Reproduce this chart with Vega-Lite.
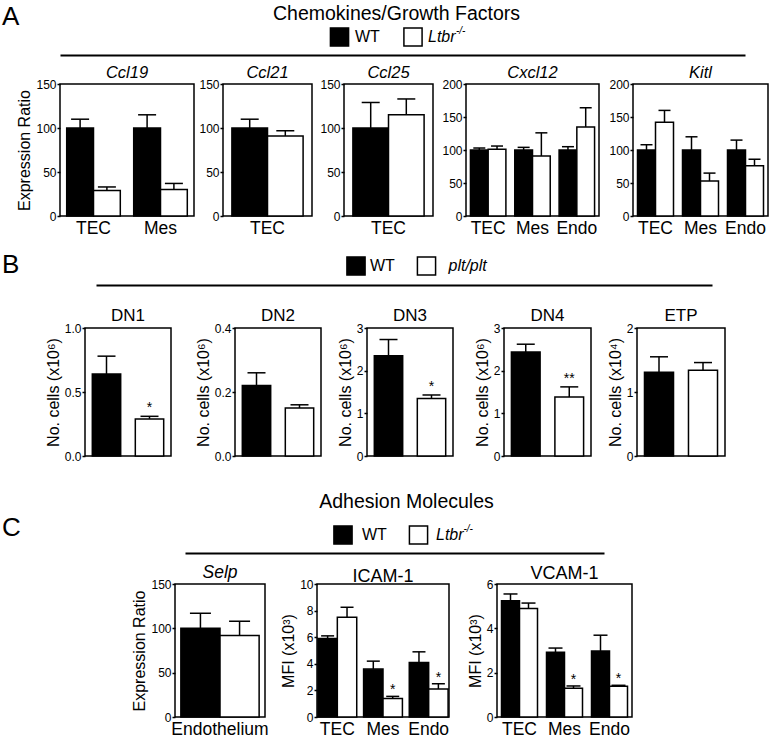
{
  "$schema": "https://vega.github.io/schema/vega-lite/v6.json",
  "autosize": {"type": "pad"},
  "padding": {"left": 0, "top": 3, "right": 0, "bottom": 0},
  "background": "white",
  "spacing": 9,
  "config": {
    "font": "Liberation Sans",
    "view": {"stroke": null},
    "axis": {"grid": false, "labelColor": "black", "titleColor": "black", "tickColor": "black", "domainColor": "black", "labelFont": "Liberation Sans", "titleFont": "Liberation Sans", "titleFontWeight": "normal"},
    "axisX": {"domain": false, "ticks": false, "tickSize": 0, "labelAngle": 0, "labelFontSize": 17.5, "labelPadding": 3},
    "axisY": {"domain": false, "tickSize": 3, "tickWidth": 1.5, "labelFontSize": 12, "labelPadding": 1, "titleFontSize": 16, "titlePadding": 3, "labelOverlap": false, "labelBound": false, "labelFlush": false},
    "title": {"color": "black", "fontWeight": "normal", "font": "Liberation Sans"},
    "text": {"color": "black", "font": "Liberation Sans"}
  },
  "datasets": {
    "blank": [{"a": 1}],
    "hdrA": [{"g": "WT", "label": "WT", "sup": ""}, {"g": "mut", "label": "Ltbr", "sup": "-/-"}],
    "hdrB": [{"g": "WT", "label": "WT", "sup": ""}, {"g": "mut", "label": "plt/plt", "sup": ""}],
    "hdrC": [{"g": "WT", "label": "WT", "sup": ""}, {"g": "mut", "label": "Ltbr", "sup": "-/-"}],
    "ccl19": [
      {"cell": "TEC", "genotype": "WT", "mean": 100, "upper": 110},
      {"cell": "TEC", "genotype": "mut", "mean": 29, "upper": 33},
      {"cell": "Mes", "genotype": "WT", "mean": 100, "upper": 115},
      {"cell": "Mes", "genotype": "mut", "mean": 30, "upper": 37}
    ],
    "ccl21": [
      {"cell": "TEC", "genotype": "WT", "mean": 100, "upper": 110},
      {"cell": "TEC", "genotype": "mut", "mean": 91, "upper": 97}
    ],
    "ccl25": [
      {"cell": "TEC", "genotype": "WT", "mean": 100, "upper": 129},
      {"cell": "TEC", "genotype": "mut", "mean": 115, "upper": 133}
    ],
    "cxcl12": [
      {"cell": "TEC", "genotype": "WT", "mean": 100, "upper": 103},
      {"cell": "TEC", "genotype": "mut", "mean": 101, "upper": 106},
      {"cell": "Mes", "genotype": "WT", "mean": 100, "upper": 104},
      {"cell": "Mes", "genotype": "mut", "mean": 91, "upper": 126},
      {"cell": "Endo", "genotype": "WT", "mean": 100, "upper": 105},
      {"cell": "Endo", "genotype": "mut", "mean": 135, "upper": 164}
    ],
    "kitl": [
      {"cell": "TEC", "genotype": "WT", "mean": 100, "upper": 108},
      {"cell": "TEC", "genotype": "mut", "mean": 142, "upper": 160},
      {"cell": "Mes", "genotype": "WT", "mean": 100, "upper": 120},
      {"cell": "Mes", "genotype": "mut", "mean": 53, "upper": 65},
      {"cell": "Endo", "genotype": "WT", "mean": 100, "upper": 115},
      {"cell": "Endo", "genotype": "mut", "mean": 76, "upper": 86}
    ],
    "dn1": [{"genotype": "WT", "mean": 0.64, "upper": 0.78, "sig": ""}, {"genotype": "mut", "mean": 0.29, "upper": 0.31, "sig": "*"}],
    "dn2": [{"genotype": "WT", "mean": 0.22, "upper": 0.26, "sig": ""}, {"genotype": "mut", "mean": 0.15, "upper": 0.16, "sig": ""}],
    "dn3": [{"genotype": "WT", "mean": 2.35, "upper": 2.73, "sig": ""}, {"genotype": "mut", "mean": 1.35, "upper": 1.43, "sig": "*"}],
    "dn4": [{"genotype": "WT", "mean": 2.44, "upper": 2.62, "sig": ""}, {"genotype": "mut", "mean": 1.38, "upper": 1.62, "sig": "**"}],
    "etp": [{"genotype": "WT", "mean": 1.31, "upper": 1.55, "sig": ""}, {"genotype": "mut", "mean": 1.34, "upper": 1.46, "sig": ""}],
    "selp": [
      {"cell": "Endothelium", "genotype": "WT", "mean": 100, "upper": 117},
      {"cell": "Endothelium", "genotype": "mut", "mean": 92, "upper": 108}
    ],
    "icam": [
      {"cell": "TEC", "genotype": "WT", "mean": 5.9, "upper": 6.1, "sig": ""},
      {"cell": "TEC", "genotype": "mut", "mean": 7.5, "upper": 8.25, "sig": ""},
      {"cell": "Mes", "genotype": "WT", "mean": 3.6, "upper": 4.2, "sig": ""},
      {"cell": "Mes", "genotype": "mut", "mean": 1.4, "upper": 1.55, "sig": "*"},
      {"cell": "Endo", "genotype": "WT", "mean": 4.1, "upper": 4.9, "sig": ""},
      {"cell": "Endo", "genotype": "mut", "mean": 2.1, "upper": 2.5, "sig": "*"}
    ],
    "vcam": [
      {"cell": "TEC", "genotype": "WT", "mean": 5.24, "upper": 5.55, "sig": ""},
      {"cell": "TEC", "genotype": "mut", "mean": 4.9, "upper": 5.14, "sig": ""},
      {"cell": "Mes", "genotype": "WT", "mean": 2.92, "upper": 3.11, "sig": ""},
      {"cell": "Mes", "genotype": "mut", "mean": 1.3, "upper": 1.4, "sig": "*"},
      {"cell": "Endo", "genotype": "WT", "mean": 2.98, "upper": 3.69, "sig": ""},
      {"cell": "Endo", "genotype": "mut", "mean": 1.39, "upper": 1.43, "sig": "*"}
    ]
  },
  "vconcat": [
    {
      "hconcat": [
        {"width": 60, "height": 36, "data": {"name": "blank"}, "mark": {"type": "text", "text": ""},
         "title": {"text": "A", "anchor": "start", "fontSize": 26, "offset": -11, "dx": 2}},
        {
          "width": 685, "height": 36,
          "data": {"name": "hdrA"},
          "title": {"text": "Chemokines/Growth Factors", "fontSize": 19.5, "offset": -5.1, "dx": -6},
          "encoding": {
            "x": {"field": "g", "type": "nominal", "scale": {"type": "point", "domain": ["WT", "mut"], "padding": 1}, "axis": {"title": null, "labels": false, "ticks": false, "domain": true, "domainWidth": 2, "domainColor": "black"}}
          },
          "layer": [
            {"transform": [{"filter": "datum.g === 'WT'"}], "mark": {"type": "point", "shape": "square", "size": 330, "filled": true, "fill": "black", "stroke": "black", "strokeWidth": 1.5, "opacity": 1}, "encoding": {"xOffset": {"value": 51.17}}},
            {"transform": [{"filter": "datum.g === 'mut'"}], "mark": {"type": "point", "shape": "square", "size": 330, "filled": true, "fill": "white", "stroke": "black", "strokeWidth": 1.5, "opacity": 1}, "encoding": {"xOffset": {"value": -103.67}}},
            {"transform": [{"filter": "datum.g === 'WT'"}], "mark": {"type": "text", "align": "left", "baseline": "middle", "dx": 15.5, "fontSize": 16}, "encoding": {"xOffset": {"value": 51.17}, "text": {"field": "label"}}},
            {"transform": [{"filter": "datum.g === 'mut'"}], "mark": {"type": "text", "align": "left", "baseline": "middle", "dx": 15, "fontSize": 16, "fontStyle": "italic"}, "encoding": {"xOffset": {"value": -103.67}, "text": {"field": "label"}}},
            {"transform": [{"filter": "datum.g === 'mut'"}], "mark": {"type": "text", "align": "left", "baseline": "middle", "dx": 43, "dy": -6, "fontSize": 10, "fontStyle": "italic"}, "encoding": {"xOffset": {"value": -103.67}, "text": {"field": "sup"}}}
          ]
        }
      ],
      "spacing": 0, "bounds": "flush"
    },
    {
      "hconcat": [
        {"width": 60, "height": 153, "data": {"name": "blank"}, "mark": {"type": "text", "text": ""}},
        {
          "width": 134, "height": 132, "data": {"name": "ccl19"},
          "view": {"stroke": "black", "strokeWidth": 1.5},
          "title": {"text": "Ccl19", "fontStyle": "italic", "fontSize": 16.5, "offset": -3.5},
          "encoding": {
            "x": {"field": "cell", "type": "nominal", "sort": null, "scale": {"paddingInner": 0.2, "paddingOuter": 0.1}, "axis": {"title": null}},
            "xOffset": {"field": "genotype", "type": "nominal", "sort": ["WT", "mut"], "scale": {"paddingInner": 0, "paddingOuter": 0}},
            "y": {"field": "mean", "type": "quantitative", "scale": {"domain": [0, 150], "nice": false}, "axis": {"values": [0, 50, 100, 150], "title": "Expression Ratio"}}
          },
          "layer": [
            {"mark": {"type": "rule", "color": "black", "strokeWidth": 1.5}, "encoding": {"y2": {"field": "upper"}}},
            {"mark": {"type": "tick", "color": "black", "thickness": 1.5, "size": 18, "opacity": 1}, "encoding": {"y": {"field": "upper", "type": "quantitative", "scale": {"domain": [0, 150], "nice": false}, "axis": {"values": [0, 50, 100, 150], "title": "Expression Ratio"}}}},
            {"mark": {"type": "bar", "stroke": "black", "strokeWidth": 1.5}, "encoding": {"fill": {"field": "genotype", "type": "nominal", "scale": {"domain": ["WT", "mut"], "range": ["black", "white"]}, "legend": null}}}
          ]
        },
        {"width": 29, "height": 10, "data": {"name": "blank"}, "mark": {"type": "text", "text": ""}},
        {
          "width": 89, "height": 132, "data": {"name": "ccl21"},
          "view": {"stroke": "black", "strokeWidth": 1.5},
          "title": {"text": "Ccl21", "fontStyle": "italic", "fontSize": 16.5, "offset": -3.5},
          "encoding": {
            "x": {"field": "cell", "type": "nominal", "sort": null, "scale": {"paddingInner": 0.2, "paddingOuter": 0.1}, "axis": {"title": null}},
            "xOffset": {"field": "genotype", "type": "nominal", "sort": ["WT", "mut"], "scale": {"paddingInner": 0, "paddingOuter": 0}},
            "y": {"field": "mean", "type": "quantitative", "scale": {"domain": [0, 150], "nice": false}, "axis": {"values": [0, 50, 100, 150], "title": null}}
          },
          "layer": [
            {"mark": {"type": "rule", "color": "black", "strokeWidth": 1.5}, "encoding": {"y2": {"field": "upper"}}},
            {"mark": {"type": "tick", "color": "black", "thickness": 1.5, "size": 18, "opacity": 1}, "encoding": {"y": {"field": "upper", "type": "quantitative", "scale": {"domain": [0, 150], "nice": false}, "axis": {"values": [0, 50, 100, 150], "title": null}}}},
            {"mark": {"type": "bar", "stroke": "black", "strokeWidth": 1.5}, "encoding": {"fill": {"field": "genotype", "type": "nominal", "scale": {"domain": ["WT", "mut"], "range": ["black", "white"]}, "legend": null}}}
          ]
        },
        {"width": 32, "height": 10, "data": {"name": "blank"}, "mark": {"type": "text", "text": ""}},
        {
          "width": 89, "height": 132, "data": {"name": "ccl25"},
          "view": {"stroke": "black", "strokeWidth": 1.5},
          "title": {"text": "Ccl25", "fontStyle": "italic", "fontSize": 16.5, "offset": -3.5},
          "encoding": {
            "x": {"field": "cell", "type": "nominal", "sort": null, "scale": {"paddingInner": 0.2, "paddingOuter": 0.1}, "axis": {"title": null}},
            "xOffset": {"field": "genotype", "type": "nominal", "sort": ["WT", "mut"], "scale": {"paddingInner": 0, "paddingOuter": 0}},
            "y": {"field": "mean", "type": "quantitative", "scale": {"domain": [0, 150], "nice": false}, "axis": {"values": [0, 50, 100, 150], "title": null}}
          },
          "layer": [
            {"mark": {"type": "rule", "color": "black", "strokeWidth": 1.5}, "encoding": {"y2": {"field": "upper"}}},
            {"mark": {"type": "tick", "color": "black", "thickness": 1.5, "size": 18, "opacity": 1}, "encoding": {"y": {"field": "upper", "type": "quantitative", "scale": {"domain": [0, 150], "nice": false}, "axis": {"values": [0, 50, 100, 150], "title": null}}}},
            {"mark": {"type": "bar", "stroke": "black", "strokeWidth": 1.5}, "encoding": {"fill": {"field": "genotype", "type": "nominal", "scale": {"domain": ["WT", "mut"], "range": ["black", "white"]}, "legend": null}}}
          ]
        },
        {"width": 33, "height": 10, "data": {"name": "blank"}, "mark": {"type": "text", "text": ""}},
        {
          "width": 133, "height": 132, "data": {"name": "cxcl12"},
          "view": {"stroke": "black", "strokeWidth": 1.5},
          "title": {"text": "Cxcl12", "fontStyle": "italic", "fontSize": 16.5, "offset": -3.5},
          "encoding": {
            "x": {"field": "cell", "type": "nominal", "sort": null, "scale": {"paddingInner": 0.2, "paddingOuter": 0.1}, "axis": {"title": null}},
            "xOffset": {"field": "genotype", "type": "nominal", "sort": ["WT", "mut"], "scale": {"paddingInner": 0, "paddingOuter": 0}},
            "y": {"field": "mean", "type": "quantitative", "scale": {"domain": [0, 200], "nice": false}, "axis": {"values": [0, 50, 100, 150, 200], "title": null}}
          },
          "layer": [
            {"mark": {"type": "rule", "color": "black", "strokeWidth": 1.5}, "encoding": {"y2": {"field": "upper"}}},
            {"mark": {"type": "tick", "color": "black", "thickness": 1.5, "size": 12, "opacity": 1}, "encoding": {"y": {"field": "upper", "type": "quantitative", "scale": {"domain": [0, 200], "nice": false}, "axis": {"values": [0, 50, 100, 150, 200], "title": null}}}},
            {"mark": {"type": "bar", "stroke": "black", "strokeWidth": 1.5}, "encoding": {"fill": {"field": "genotype", "type": "nominal", "scale": {"domain": ["WT", "mut"], "range": ["black", "white"]}, "legend": null}}}
          ]
        },
        {"width": 34, "height": 10, "data": {"name": "blank"}, "mark": {"type": "text", "text": ""}},
        {
          "width": 135, "height": 132, "data": {"name": "kitl"},
          "view": {"stroke": "black", "strokeWidth": 1.5},
          "title": {"text": "Kitl", "fontStyle": "italic", "fontSize": 16.5, "offset": -3.5},
          "encoding": {
            "x": {"field": "cell", "type": "nominal", "sort": null, "scale": {"paddingInner": 0.2, "paddingOuter": 0.1}, "axis": {"title": null}},
            "xOffset": {"field": "genotype", "type": "nominal", "sort": ["WT", "mut"], "scale": {"paddingInner": 0, "paddingOuter": 0}},
            "y": {"field": "mean", "type": "quantitative", "scale": {"domain": [0, 200], "nice": false}, "axis": {"values": [0, 50, 100, 150, 200], "title": null}}
          },
          "layer": [
            {"mark": {"type": "rule", "color": "black", "strokeWidth": 1.5}, "encoding": {"y2": {"field": "upper"}}},
            {"mark": {"type": "tick", "color": "black", "thickness": 1.5, "size": 12, "opacity": 1}, "encoding": {"y": {"field": "upper", "type": "quantitative", "scale": {"domain": [0, 200], "nice": false}, "axis": {"values": [0, 50, 100, 150, 200], "title": null}}}},
            {"mark": {"type": "bar", "stroke": "black", "strokeWidth": 1.5}, "encoding": {"fill": {"field": "genotype", "type": "nominal", "scale": {"domain": ["WT", "mut"], "range": ["black", "white"]}, "legend": null}}}
          ]
        }
      ],
      "spacing": 0, "bounds": "flush",
      "resolve": {"scale": {"x": "independent", "xOffset": "independent", "y": "independent", "fill": "independent"}}
    },
    {
      "hconcat": [
        {"width": 96, "height": 48.5, "data": {"name": "blank"}, "mark": {"type": "text", "text": ""},
         "title": {"text": "B", "anchor": "start", "fontSize": 26, "offset": -30.5, "dx": 2}},
        {
          "width": 616, "height": 38,
          "data": {"name": "hdrB"},
          "encoding": {
            "x": {"field": "g", "type": "nominal", "scale": {"type": "point", "domain": ["WT", "mut"], "padding": 1}, "axis": {"title": null, "labels": false, "ticks": false, "domain": true, "domainWidth": 2, "domainColor": "black"}}
          },
          "layer": [
            {"transform": [{"filter": "datum.g === 'WT'"}], "mark": {"type": "point", "shape": "square", "size": 330, "filled": true, "fill": "black", "stroke": "black", "strokeWidth": 1.5, "opacity": 1}, "encoding": {"xOffset": {"value": 54.67}}},
            {"transform": [{"filter": "datum.g === 'mut'"}], "mark": {"type": "point", "shape": "square", "size": 330, "filled": true, "fill": "white", "stroke": "black", "strokeWidth": 1.5, "opacity": 1}, "encoding": {"xOffset": {"value": -80.17}}},
            {"transform": [{"filter": "datum.g === 'WT'"}], "mark": {"type": "text", "align": "left", "baseline": "middle", "dx": 14, "fontSize": 16}, "encoding": {"xOffset": {"value": 54.67}, "text": {"field": "label"}}},
            {"transform": [{"filter": "datum.g === 'mut'"}], "mark": {"type": "text", "align": "left", "baseline": "middle", "dx": 22, "fontSize": 16, "fontStyle": "italic"}, "encoding": {"xOffset": {"value": -80.17}, "text": {"field": "label"}}}
          ]
        }
      ],
      "spacing": 0, "bounds": "flush"
    },
    {
      "hconcat": [
        {"width": 85, "height": 154, "data": {"name": "blank"}, "mark": {"type": "text", "text": ""}},
        {
          "width": 86, "height": 128, "data": {"name": "dn1"},
          "view": {"stroke": "black", "strokeWidth": 1.5},
          "title": {"text": "DN1", "fontSize": 17, "offset": -2.6},
          "encoding": {
            "x": {"field": "genotype", "type": "nominal", "sort": ["WT", "mut"], "scale": {"paddingInner": 0.34, "paddingOuter": 0.17}, "axis": null},
            "y": {"field": "mean", "type": "quantitative", "scale": {"domain": [0, 1], "nice": false}, "axis": {"values": [0, 0.5, 1], "format": ".1f", "title": "No. cells (x10⁶)"}}
          },
          "layer": [
            {"mark": {"type": "rule", "color": "black", "strokeWidth": 1.5}, "encoding": {"y2": {"field": "upper"}}},
            {"mark": {"type": "tick", "color": "black", "thickness": 1.5, "size": 18, "opacity": 1}, "encoding": {"y": {"field": "upper", "type": "quantitative", "scale": {"domain": [0, 1], "nice": false}, "axis": {"values": [0, 0.5, 1], "format": ".1f", "title": "No. cells (x10⁶)"}}}},
            {"mark": {"type": "bar", "stroke": "black", "strokeWidth": 1.5}, "encoding": {"fill": {"field": "genotype", "type": "nominal", "scale": {"domain": ["WT", "mut"], "range": ["black", "white"]}, "legend": null}}},
            {"mark": {"type": "text", "baseline": "bottom", "dy": -1, "fontSize": 14}, "encoding": {"y": {"field": "upper", "type": "quantitative", "scale": {"domain": [0, 1], "nice": false}, "axis": {"values": [0, 0.5, 1], "format": ".1f", "title": "No. cells (x10⁶)"}}, "text": {"field": "sig"}}}
          ]
        },
        {"width": 64, "height": 10, "data": {"name": "blank"}, "mark": {"type": "text", "text": ""}},
        {
          "width": 86, "height": 128, "data": {"name": "dn2"},
          "view": {"stroke": "black", "strokeWidth": 1.5},
          "title": {"text": "DN2", "fontSize": 17, "offset": -2.6},
          "encoding": {
            "x": {"field": "genotype", "type": "nominal", "sort": ["WT", "mut"], "scale": {"paddingInner": 0.34, "paddingOuter": 0.17}, "axis": null},
            "y": {"field": "mean", "type": "quantitative", "scale": {"domain": [0, 0.4], "nice": false}, "axis": {"values": [0, 0.2, 0.4], "format": ".1f", "title": "No. cells (x10⁶)"}}
          },
          "layer": [
            {"mark": {"type": "rule", "color": "black", "strokeWidth": 1.5}, "encoding": {"y2": {"field": "upper"}}},
            {"mark": {"type": "tick", "color": "black", "thickness": 1.5, "size": 18, "opacity": 1}, "encoding": {"y": {"field": "upper", "type": "quantitative", "scale": {"domain": [0, 0.4], "nice": false}, "axis": {"values": [0, 0.2, 0.4], "format": ".1f", "title": "No. cells (x10⁶)"}}}},
            {"mark": {"type": "bar", "stroke": "black", "strokeWidth": 1.5}, "encoding": {"fill": {"field": "genotype", "type": "nominal", "scale": {"domain": ["WT", "mut"], "range": ["black", "white"]}, "legend": null}}}
          ]
        },
        {"width": 46, "height": 10, "data": {"name": "blank"}, "mark": {"type": "text", "text": ""}},
        {
          "width": 86, "height": 128, "data": {"name": "dn3"},
          "view": {"stroke": "black", "strokeWidth": 1.5},
          "title": {"text": "DN3", "fontSize": 17, "offset": -2.6},
          "encoding": {
            "x": {"field": "genotype", "type": "nominal", "sort": ["WT", "mut"], "scale": {"paddingInner": 0.34, "paddingOuter": 0.17}, "axis": null},
            "y": {"field": "mean", "type": "quantitative", "scale": {"domain": [0, 3], "nice": false}, "axis": {"values": [0, 1, 2, 3], "labelExpr": "datum.value < 0.5 ? '0' : format(datum.value, '.0f')", "labelOverlap": false, "labelBound": false, "title": "No. cells (x10⁶)"}}
          },
          "layer": [
            {"mark": {"type": "rule", "color": "black", "strokeWidth": 1.5}, "encoding": {"y2": {"field": "upper"}}},
            {"mark": {"type": "tick", "color": "black", "thickness": 1.5, "size": 18, "opacity": 1}, "encoding": {"y": {"field": "upper", "type": "quantitative", "scale": {"domain": [0, 3], "nice": false}, "axis": {"values": [0, 1, 2, 3], "labelExpr": "datum.value < 0.5 ? '0' : format(datum.value, '.0f')", "labelOverlap": false, "labelBound": false, "title": "No. cells (x10⁶)"}}}},
            {"mark": {"type": "bar", "stroke": "black", "strokeWidth": 1.5}, "encoding": {"fill": {"field": "genotype", "type": "nominal", "scale": {"domain": ["WT", "mut"], "range": ["black", "white"]}, "legend": null}}},
            {"mark": {"type": "text", "baseline": "bottom", "dy": -1, "fontSize": 14}, "encoding": {"y": {"field": "upper", "type": "quantitative", "scale": {"domain": [0, 3], "nice": false}, "axis": {"values": [0, 1, 2, 3], "labelExpr": "datum.value < 0.5 ? '0' : format(datum.value, '.0f')", "labelOverlap": false, "labelBound": false, "title": "No. cells (x10⁶)"}}, "text": {"field": "sig"}}}
          ]
        },
        {"width": 51, "height": 10, "data": {"name": "blank"}, "mark": {"type": "text", "text": ""}},
        {
          "width": 87, "height": 128, "data": {"name": "dn4"},
          "view": {"stroke": "black", "strokeWidth": 1.5},
          "title": {"text": "DN4", "fontSize": 17, "offset": -2.6},
          "encoding": {
            "x": {"field": "genotype", "type": "nominal", "sort": ["WT", "mut"], "scale": {"paddingInner": 0.34, "paddingOuter": 0.17}, "axis": null},
            "y": {"field": "mean", "type": "quantitative", "scale": {"domain": [0, 3], "nice": false}, "axis": {"values": [0, 1, 2, 3], "labelExpr": "datum.value < 0.5 ? '0' : format(datum.value, '.0f')", "labelOverlap": false, "labelBound": false, "title": "No. cells (x10⁶)"}}
          },
          "layer": [
            {"mark": {"type": "rule", "color": "black", "strokeWidth": 1.5}, "encoding": {"y2": {"field": "upper"}}},
            {"mark": {"type": "tick", "color": "black", "thickness": 1.5, "size": 18, "opacity": 1}, "encoding": {"y": {"field": "upper", "type": "quantitative", "scale": {"domain": [0, 3], "nice": false}, "axis": {"values": [0, 1, 2, 3], "labelExpr": "datum.value < 0.5 ? '0' : format(datum.value, '.0f')", "labelOverlap": false, "labelBound": false, "title": "No. cells (x10⁶)"}}}},
            {"mark": {"type": "bar", "stroke": "black", "strokeWidth": 1.5}, "encoding": {"fill": {"field": "genotype", "type": "nominal", "scale": {"domain": ["WT", "mut"], "range": ["black", "white"]}, "legend": null}}},
            {"mark": {"type": "text", "baseline": "bottom", "dy": -1, "fontSize": 14}, "encoding": {"y": {"field": "upper", "type": "quantitative", "scale": {"domain": [0, 3], "nice": false}, "axis": {"values": [0, 1, 2, 3], "labelExpr": "datum.value < 0.5 ? '0' : format(datum.value, '.0f')", "labelOverlap": false, "labelBound": false, "title": "No. cells (x10⁶)"}}, "text": {"field": "sig"}}}
          ]
        },
        {"width": 46, "height": 10, "data": {"name": "blank"}, "mark": {"type": "text", "text": ""}},
        {
          "width": 88, "height": 128, "data": {"name": "etp"},
          "view": {"stroke": "black", "strokeWidth": 1.5},
          "title": {"text": "ETP", "fontSize": 17, "offset": -2.6},
          "encoding": {
            "x": {"field": "genotype", "type": "nominal", "sort": ["WT", "mut"], "scale": {"paddingInner": 0.34, "paddingOuter": 0.17}, "axis": null},
            "y": {"field": "mean", "type": "quantitative", "scale": {"domain": [0, 2], "nice": false}, "axis": {"values": [0, 1, 2], "labelExpr": "datum.value < 0.5 ? '0' : format(datum.value, '.0f')", "labelOverlap": false, "labelBound": false, "title": "No. cells (x10⁴)"}}
          },
          "layer": [
            {"mark": {"type": "rule", "color": "black", "strokeWidth": 1.5}, "encoding": {"y2": {"field": "upper"}}},
            {"mark": {"type": "tick", "color": "black", "thickness": 1.5, "size": 18, "opacity": 1}, "encoding": {"y": {"field": "upper", "type": "quantitative", "scale": {"domain": [0, 2], "nice": false}, "axis": {"values": [0, 1, 2], "labelExpr": "datum.value < 0.5 ? '0' : format(datum.value, '.0f')", "labelOverlap": false, "labelBound": false, "title": "No. cells (x10⁴)"}}}},
            {"mark": {"type": "bar", "stroke": "black", "strokeWidth": 1.5}, "encoding": {"fill": {"field": "genotype", "type": "nominal", "scale": {"domain": ["WT", "mut"], "range": ["black", "white"]}, "legend": null}}}
          ]
        }
      ],
      "spacing": 0, "bounds": "flush",
      "resolve": {"scale": {"x": "independent", "y": "independent", "fill": "independent"}}
    },
    {
      "hconcat": [
        {"width": 185, "height": 37, "data": {"name": "blank"}, "mark": {"type": "text", "text": ""},
         "title": {"text": "C", "anchor": "start", "fontSize": 26, "offset": -23.5, "dx": 2}},
        {
          "width": 419, "height": 36,
          "data": {"name": "hdrC"},
          "title": {"text": "Adhesion Molecules", "fontSize": 19.5, "offset": 4.9, "dx": 12},
          "encoding": {
            "x": {"field": "g", "type": "nominal", "scale": {"type": "point", "domain": ["WT", "mut"], "padding": 1}, "axis": {"title": null, "labels": false, "ticks": false, "domain": true, "domainWidth": 2, "domainColor": "black"}}
          },
          "layer": [
            {"transform": [{"filter": "datum.g === 'WT'"}], "mark": {"type": "point", "shape": "square", "size": 330, "filled": true, "fill": "black", "stroke": "black", "strokeWidth": 1.5, "opacity": 1}, "encoding": {"xOffset": {"value": 18.33}}},
            {"transform": [{"filter": "datum.g === 'mut'"}], "mark": {"type": "point", "shape": "square", "size": 330, "filled": true, "fill": "white", "stroke": "black", "strokeWidth": 1.5, "opacity": 1}, "encoding": {"xOffset": {"value": -45.83}}},
            {"transform": [{"filter": "datum.g === 'WT'"}], "mark": {"type": "text", "align": "left", "baseline": "middle", "dx": 19, "fontSize": 16}, "encoding": {"xOffset": {"value": 18.33}, "text": {"field": "label"}}},
            {"transform": [{"filter": "datum.g === 'mut'"}], "mark": {"type": "text", "align": "left", "baseline": "middle", "dx": 17.5, "fontSize": 16, "fontStyle": "italic"}, "encoding": {"xOffset": {"value": -45.83}, "text": {"field": "label"}}},
            {"transform": [{"filter": "datum.g === 'mut'"}], "mark": {"type": "text", "align": "left", "baseline": "middle", "dx": 45, "dy": -6, "fontSize": 10, "fontStyle": "italic"}, "encoding": {"xOffset": {"value": -45.83}, "text": {"field": "sup"}}}
          ]
        }
      ],
      "spacing": 0, "bounds": "flush"
    },
    {
      "hconcat": [
        {"width": 175, "height": 10, "data": {"name": "blank"}, "mark": {"type": "text", "text": ""}},
        {
          "width": 90, "height": 133, "data": {"name": "selp"},
          "view": {"stroke": "black", "strokeWidth": 1.5},
          "title": {"text": "Selp", "fontStyle": "italic", "fontSize": 17.5, "offset": -3.7},
          "encoding": {
            "x": {"field": "cell", "type": "nominal", "sort": null, "scale": {"paddingInner": 0.2, "paddingOuter": 0.06}, "axis": {"title": null}},
            "xOffset": {"field": "genotype", "type": "nominal", "sort": ["WT", "mut"], "scale": {"paddingInner": 0, "paddingOuter": 0}},
            "y": {"field": "mean", "type": "quantitative", "scale": {"domain": [0, 150], "nice": false}, "axis": {"values": [0, 50, 100, 150], "title": "Expression Ratio"}}
          },
          "layer": [
            {"mark": {"type": "rule", "color": "black", "strokeWidth": 1.5}, "encoding": {"y2": {"field": "upper"}}},
            {"mark": {"type": "tick", "color": "black", "thickness": 1.5, "size": 21, "opacity": 1}, "encoding": {"y": {"field": "upper", "type": "quantitative", "scale": {"domain": [0, 150], "nice": false}, "axis": {"values": [0, 50, 100, 150], "title": "Expression Ratio"}}}},
            {"mark": {"type": "bar", "stroke": "black", "strokeWidth": 1.5}, "encoding": {"fill": {"field": "genotype", "type": "nominal", "scale": {"domain": ["WT", "mut"], "range": ["black", "white"]}, "legend": null}}}
          ]
        },
        {"width": 52, "height": 10, "data": {"name": "blank"}, "mark": {"type": "text", "text": ""}},
        {
          "width": 132, "height": 133, "data": {"name": "icam"},
          "view": {"stroke": "black", "strokeWidth": 1.5},
          "title": {"text": "ICAM-1", "fontSize": 18, "offset": -7.8},
          "encoding": {
            "x": {"field": "cell", "type": "nominal", "sort": null, "scale": {"paddingInner": 0.15, "paddingOuter": 0.02}, "axis": {"title": null}},
            "xOffset": {"field": "genotype", "type": "nominal", "sort": ["WT", "mut"], "scale": {"paddingInner": 0, "paddingOuter": 0}},
            "y": {"field": "mean", "type": "quantitative", "scale": {"domain": [0, 10], "nice": false}, "axis": {"values": [0, 2, 4, 6, 8, 10], "title": "MFI (x10³)"}}
          },
          "layer": [
            {"mark": {"type": "rule", "color": "black", "strokeWidth": 1.5}, "encoding": {"y2": {"field": "upper"}}},
            {"mark": {"type": "tick", "color": "black", "thickness": 1.5, "size": 13, "opacity": 1}, "encoding": {"y": {"field": "upper", "type": "quantitative", "scale": {"domain": [0, 10], "nice": false}, "axis": {"values": [0, 2, 4, 6, 8, 10], "title": "MFI (x10³)"}}}},
            {"mark": {"type": "bar", "stroke": "black", "strokeWidth": 1.5}, "encoding": {"fill": {"field": "genotype", "type": "nominal", "scale": {"domain": ["WT", "mut"], "range": ["black", "white"]}, "legend": null}}},
            {"mark": {"type": "text", "baseline": "bottom", "dy": 1, "fontSize": 14}, "encoding": {"y": {"field": "upper", "type": "quantitative", "scale": {"domain": [0, 10], "nice": false}, "axis": {"values": [0, 2, 4, 6, 8, 10], "title": "MFI (x10³)"}}, "text": {"field": "sig"}}}
          ]
        },
        {"width": 48, "height": 10, "data": {"name": "blank"}, "mark": {"type": "text", "text": ""}},
        {
          "width": 135, "height": 133, "data": {"name": "vcam"},
          "view": {"stroke": "black", "strokeWidth": 1.5},
          "title": {"text": "VCAM-1", "fontSize": 18, "offset": -4.8},
          "encoding": {
            "x": {"field": "cell", "type": "nominal", "sort": null, "scale": {"paddingInner": 0.2, "paddingOuter": 0.1}, "axis": {"title": null}},
            "xOffset": {"field": "genotype", "type": "nominal", "sort": ["WT", "mut"], "scale": {"paddingInner": 0, "paddingOuter": 0}},
            "y": {"field": "mean", "type": "quantitative", "scale": {"domain": [0, 6], "nice": false}, "axis": {"values": [0, 2, 4, 6], "title": "MFI (x10³)"}}
          },
          "layer": [
            {"mark": {"type": "rule", "color": "black", "strokeWidth": 1.5}, "encoding": {"y2": {"field": "upper"}}},
            {"mark": {"type": "tick", "color": "black", "thickness": 1.5, "size": 14, "opacity": 1}, "encoding": {"y": {"field": "upper", "type": "quantitative", "scale": {"domain": [0, 6], "nice": false}, "axis": {"values": [0, 2, 4, 6], "title": "MFI (x10³)"}}}},
            {"mark": {"type": "bar", "stroke": "black", "strokeWidth": 1.5}, "encoding": {"fill": {"field": "genotype", "type": "nominal", "scale": {"domain": ["WT", "mut"], "range": ["black", "white"]}, "legend": null}}},
            {"mark": {"type": "text", "baseline": "bottom", "dy": 1, "fontSize": 14}, "encoding": {"y": {"field": "upper", "type": "quantitative", "scale": {"domain": [0, 6], "nice": false}, "axis": {"values": [0, 2, 4, 6], "title": "MFI (x10³)"}}, "text": {"field": "sig"}}}
          ]
        }
      ],
      "spacing": 0, "bounds": "flush",
      "resolve": {"scale": {"x": "independent", "xOffset": "independent", "y": "independent", "fill": "independent"}}
    }
  ]
}
